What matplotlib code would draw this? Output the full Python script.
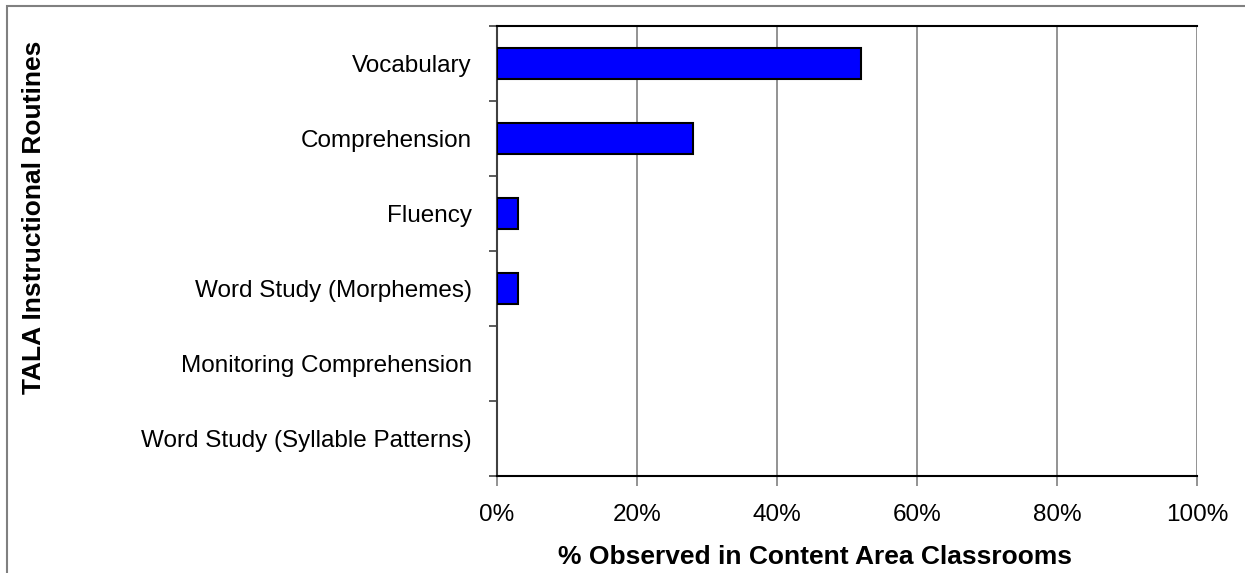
import matplotlib
matplotlib.use("Agg")
import matplotlib.pyplot as plt
from matplotlib.patches import Rectangle
from matplotlib.ticker import FuncFormatter

categories = ["Vocabulary", "Comprehension", "Fluency", "Word Study (Morphemes)",
              "Monitoring Comprehension", "Word Study (Syllable Patterns)"]
values = [52, 28, 3, 3, 0, 0]
x_ticks = [0, 20, 40, 60, 80, 100]
x_label = "% Observed in Content Area Classrooms"
y_label = "TALA Instructional Routines"

plt.rcParams['font.family'] = ['Liberation Sans', 'DejaVu Sans']

W, H = 1245, 573
fig = plt.figure(figsize=(W / 100, H / 100), dpi=100)
fig.patch.set_facecolor("white")

# outer chart frame
fig.add_artist(Rectangle((7 / W, -0.1), 1.2, 1 - 6 / H + 0.1, transform=fig.transFigure,
                         fill=False, edgecolor="#808080", linewidth=1.5))

ax = fig.add_axes([497 / W, 1 - 476 / H, 700 / W, 450 / H])
ypos = list(range(len(categories)))
lws = [1.5 if v > 0 else 0 for v in values]
ax.barh(ypos, values, height=0.42, color="#0000FF", edgecolor="black", linewidth=lws, zorder=3)

ax.set_xlim(0, 100)
ax.set_ylim(len(categories) - 0.5, -0.5)
ax.set_xticks(x_ticks)
ax.xaxis.set_major_formatter(FuncFormatter(lambda v, p: f"{int(v)}%"))
ax.grid(axis="x", color="#808080", linewidth=1.2, zorder=0)

ax.set_yticks(ypos)
ax.set_yticklabels(categories)
ax.set_yticks([i - 0.5 for i in range(len(categories) + 1)], minor=True)
ax.tick_params(axis="y", which="major", length=0, pad=25 * 0.72, labelsize=17.5)
ax.tick_params(axis="y", which="minor", length=6, width=1.2, color="#404040", direction="out")
ax.tick_params(axis="x", which="major", length=7, width=1.2, color="#808080", direction="out",
               pad=13, labelsize=17.5)

for s in ["top", "bottom"]:
    ax.spines[s].set_color("black")
    ax.spines[s].set_linewidth(1.5)
ax.spines["left"].set_color("#404040")
ax.spines["left"].set_linewidth(1.5)
ax.spines["right"].set_visible(False)

fig.text(815 / W, 1 - 557 / H, x_label, fontsize=19, fontweight="bold",
         ha="center", va="center")
fig.text(34 / W, 1 - 217 / H, y_label, rotation=90, fontsize=19, fontweight="bold",
         ha="center", va="center")

fig.savefig("out.png", dpi=100, facecolor="white")
